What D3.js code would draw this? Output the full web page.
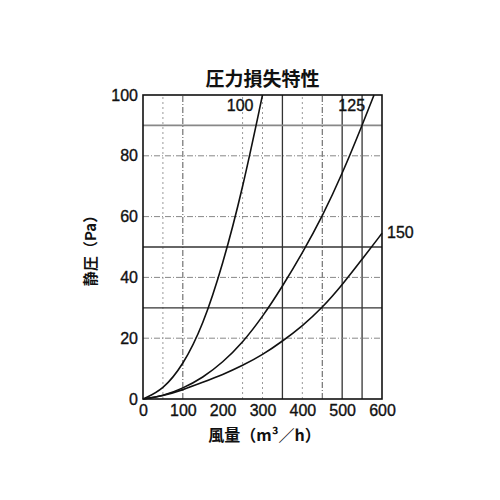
<!DOCTYPE html>
<html>
<head>
<meta charset="utf-8">
<script src="https://cdn.jsdelivr.net/npm/d3@7"></script>
<style>
  body{margin:0;background:#fff;}
  .tick text{font-family:"Liberation Sans",Arial,sans-serif;font-size:16px;fill:#111;stroke:#111;stroke-width:0.35px;}
  .jp{font-family:"Noto Sans CJK JP","Noto Sans",sans-serif;fill:#111;}
</style>
</head>
<body>
<svg id="chart" width="500" height="500"></svg>
<script>
// 風量 (m3/h) and 静圧 (Pa)
var flow100 = [0,50,100,150,200,250,300];
var press100 = [0,3,11,24,44,69,100];
var flow125 = [0,50,100,150,200,250,300,350,400,450,500,550,580];
var press125 = [0,1,3.5,7,12,18.5,27,37,48,60,74,90,100];
var flow150 = [0,50,100,150,200,250,300,350,400,450,500,550,600];
var press150 = [0,1,3,5.5,8,11,14.5,19,24,30,37.5,46,54.5];
var curveNames = ["100","125","150"];

var xTicks = [0,100,200,300,400,500,600];
var yTicks = [0,20,40,60,80,100];

// grid lines as drawn in the original
var vGridSolid = [350,500,550];
var vGridDash = [100,450];
var vGridDot = [50,250,300,400];
var hGridSolid = [30,50];
var hGridGray = [90];
var hGridDash = [20,40,60,80];

var margin = {left:143,right:118,top:95,bottom:101};
var W = 500, H = 500;
var svg = d3.select("#chart");

var x = d3.scaleLinear().domain([0,600]).range([margin.left, W-margin.right]);
var y = d3.scaleLinear().domain([0,100]).range([H-margin.bottom, margin.top]);

var grid = svg.append("g");
function vLines(vals, color, width, dash){
  grid.selectAll(null).data(vals).enter().append("line")
    .attr("x1",function(d){return x(d)}).attr("x2",function(d){return x(d)})
    .attr("y1",y(0)).attr("y2",y(100))
    .attr("stroke",color).attr("stroke-width",width)
    .attr("stroke-dasharray",dash);
}
function hLines(vals, color, width, dash){
  grid.selectAll(null).data(vals).enter().append("line")
    .attr("y1",function(d){return y(d)}).attr("y2",function(d){return y(d)})
    .attr("x1",x(0)).attr("x2",x(600))
    .attr("stroke",color).attr("stroke-width",width)
    .attr("stroke-dasharray",dash);
}
vLines(vGridDot,"#999",1,"2,3");
vLines(vGridDash,"#555",1,"6,2,1,2");
vLines(vGridSolid,"#333",1.3,null);
hLines(hGridDash,"#888",1,"6,2,1,2");
hLines(hGridGray,"#888",1.8,null);
hLines(hGridSolid,"#333",1.3,null);

// frame
svg.append("rect")
  .attr("x",x(0)).attr("y",y(100))
  .attr("width",x(600)-x(0)).attr("height",y(0)-y(100))
  .attr("fill","none").attr("stroke","#111").attr("stroke-width",1.6);

// axes
var xAxis = svg.append("g").attr("transform","translate(0,"+y(0)+")")
  .call(d3.axisBottom(x).tickValues(xTicks).tickSize(0).tickPadding(6));
var yAxis = svg.append("g").attr("transform","translate("+x(0)+",0)")
  .call(d3.axisLeft(y).tickValues(yTicks).tickSize(0).tickPadding(5));
[xAxis,yAxis].forEach(function(a){ a.select(".domain").remove(); });

// curves
var series = [
  {name:curveNames[0], flow:flow100, press:press100},
  {name:curveNames[1], flow:flow125, press:press125},
  {name:curveNames[2], flow:flow150, press:press150}
];
var line = d3.line()
  .x(function(d){return x(d[0])})
  .y(function(d){return y(d[1])})
  .curve(d3.curveBasis);
svg.selectAll(".curve").data(series).enter().append("path")
  .attr("class","curve")
  .attr("d",function(d){ return line(d3.zip(d.flow,d.press)); })
  .attr("fill","none").attr("stroke","#111").attr("stroke-width",1.6);

// curve labels
svg.selectAll(".clabel").data(series).enter().append("text")
  .attr("class","clabel")
  .attr("font-family","Liberation Sans,Arial,sans-serif")
  .attr("font-size",16).attr("fill","#111")
  .attr("stroke","#111").attr("stroke-width",0.35)
  .attr("text-anchor",function(d,i){ return i<2?"end":"start"; })
  .attr("x",function(d,i){
    var last = d.flow[d.flow.length-1];
    return i<2 ? x(last)-9 : x(last)+5;
  })
  .attr("y",function(d,i){
    var last = d.press[d.press.length-1];
    return i<2 ? y(last)+16 : y(last)+5;
  })
  .text(function(d){return d.name});

// titles
svg.append("text").attr("class","jp")
  .attr("x",(x(0)+x(600))/2).attr("y",86)
  .attr("text-anchor","middle").attr("font-size",19).attr("font-weight","bold")
  .text("圧力損失特性");
svg.append("text").attr("class","jp")
  .attr("x",(x(0)+x(600))/2+2).attr("y",441)
  .attr("text-anchor","middle").attr("font-size",16).attr("font-weight","bold")
  .text("風量（m³／h）");
svg.append("text").attr("class","jp")
  .attr("transform","translate(96,"+((y(0)+y(100))/2)+") rotate(-90)")
  .attr("text-anchor","middle").attr("font-size",15).attr("font-weight","bold")
  .text("静圧（Pa）");
</script>
</body>
</html>
